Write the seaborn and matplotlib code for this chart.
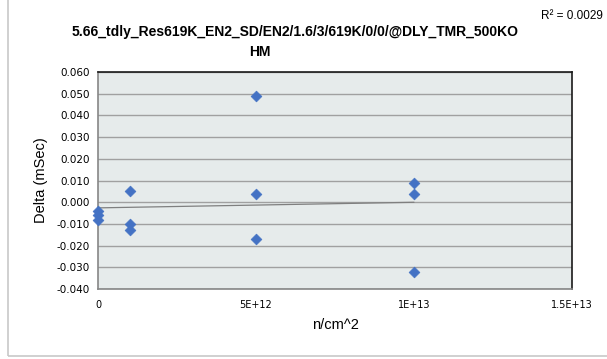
import numpy as np
import pandas as pd
import matplotlib.pyplot as plt
import seaborn as sns
from matplotlib.patches import Rectangle
from matplotlib.ticker import FixedLocator, FixedFormatter

# data
fluence = [0, 0, 0, 1e12, 1e12, 1e12, 5e12, 5e12, 5e12, 1e13, 1e13, 1e13]
delta = [-0.004, -0.006, -0.008, 0.005, -0.010, -0.013,
         0.049, 0.004, -0.017, 0.009, 0.004, -0.032]
x_ticks = [0, 5e12, 1e13, 1.5e13]
x_tick_labels = ['0', '5E+12', '1E+13', '1.5E+13']
y_ticks = [-0.04, -0.03, -0.02, -0.01, 0.0, 0.01, 0.02, 0.03, 0.04, 0.05, 0.06]
title_line1 = '5.66_tdly_Res619K_EN2_SD/EN2/1.6/3/619K/0/0/@DLY_TMR_500KO'
title_line2 = 'HM'
r2_label = 'R\u00b2 = 0.0029'


def main():
    df = pd.DataFrame({'fluence': fluence, 'delta': delta})

    sns.set_style('white')
    plt.rcParams['font.family'] = ['DejaVu Sans']
    plt.rcParams['text.color'] = 'black'
    plt.rcParams['axes.labelcolor'] = 'black'
    plt.rcParams['xtick.color'] = 'black'
    plt.rcParams['ytick.color'] = 'black'

    fig = plt.figure(figsize=(6.07, 3.59), dpi=100)
    ax = fig.add_axes([98 / 607, 70 / 359, 474 / 607, 217 / 359])

    # outer chart frame
    fig.patches.append(Rectangle((8 / 607, 3 / 359), 1.2, 1.1, transform=fig.transFigure,
                                 fill=False, edgecolor='#c8c8c8', linewidth=1.2))

    ax.set_facecolor('#e6ebeb')
    ax.set_xlim(0, 1.5e13)
    ax.set_ylim(-0.04, 0.06)
    ax.set_yticks(y_ticks)
    ax.yaxis.set_major_formatter(plt.FuncFormatter(lambda v, p: f'{v:.3f}'))
    ax.xaxis.set_major_locator(FixedLocator(x_ticks))
    ax.xaxis.set_major_formatter(FixedFormatter(x_tick_labels))
    ax.grid(axis='y', color='#a0a0a0', linewidth=1)
    ax.set_axisbelow(True)

    sns.regplot(ax=ax, x='fluence', y='delta', data=df, scatter=False, ci=None,
                truncate=True, line_kws={'color': '#7f7f7f', 'linewidth': 0.9})
    sns.scatterplot(ax=ax, x='fluence', y='delta', data=df, marker='D', s=30,
                    color='#4472c4', edgecolor='#4472c4', linewidth=0.5,
                    zorder=3, clip_on=False)

    for side in ['top', 'right']:
        ax.spines[side].set_color('#1a1a1a')
        ax.spines[side].set_linewidth(1.2)
    for side in ['left', 'bottom']:
        ax.spines[side].set_color('#868686')
        ax.spines[side].set_linewidth(1.2)

    ax.tick_params(axis='y', length=3, color='#868686', labelsize=7.5, pad=3)
    ax.tick_params(axis='x', length=3, color='#b0b0b0', labelsize=7, pad=5)
    ax.set_xlabel('n/cm^2', fontsize=10.5, labelpad=6, family='Liberation Sans')
    ax.set_ylabel('Delta (mSec)', fontsize=10.5, labelpad=6, family='Liberation Sans')

    fig.text(295 / 607, 1 - 32 / 359, title_line1, ha='center', va='center',
             fontsize=10, fontweight='bold', family='Liberation Sans')
    fig.text(260 / 607, 1 - 52 / 359, title_line2, ha='center', va='center',
             fontsize=10, fontweight='bold', family='Liberation Sans')
    fig.text(541 / 607, 1 - 16 / 359, r2_label, ha='left', va='center',
             fontsize=8.5, family='Liberation Sans')

    fig.savefig('out.png', dpi=100)


if __name__ == "__main__":
    main()
